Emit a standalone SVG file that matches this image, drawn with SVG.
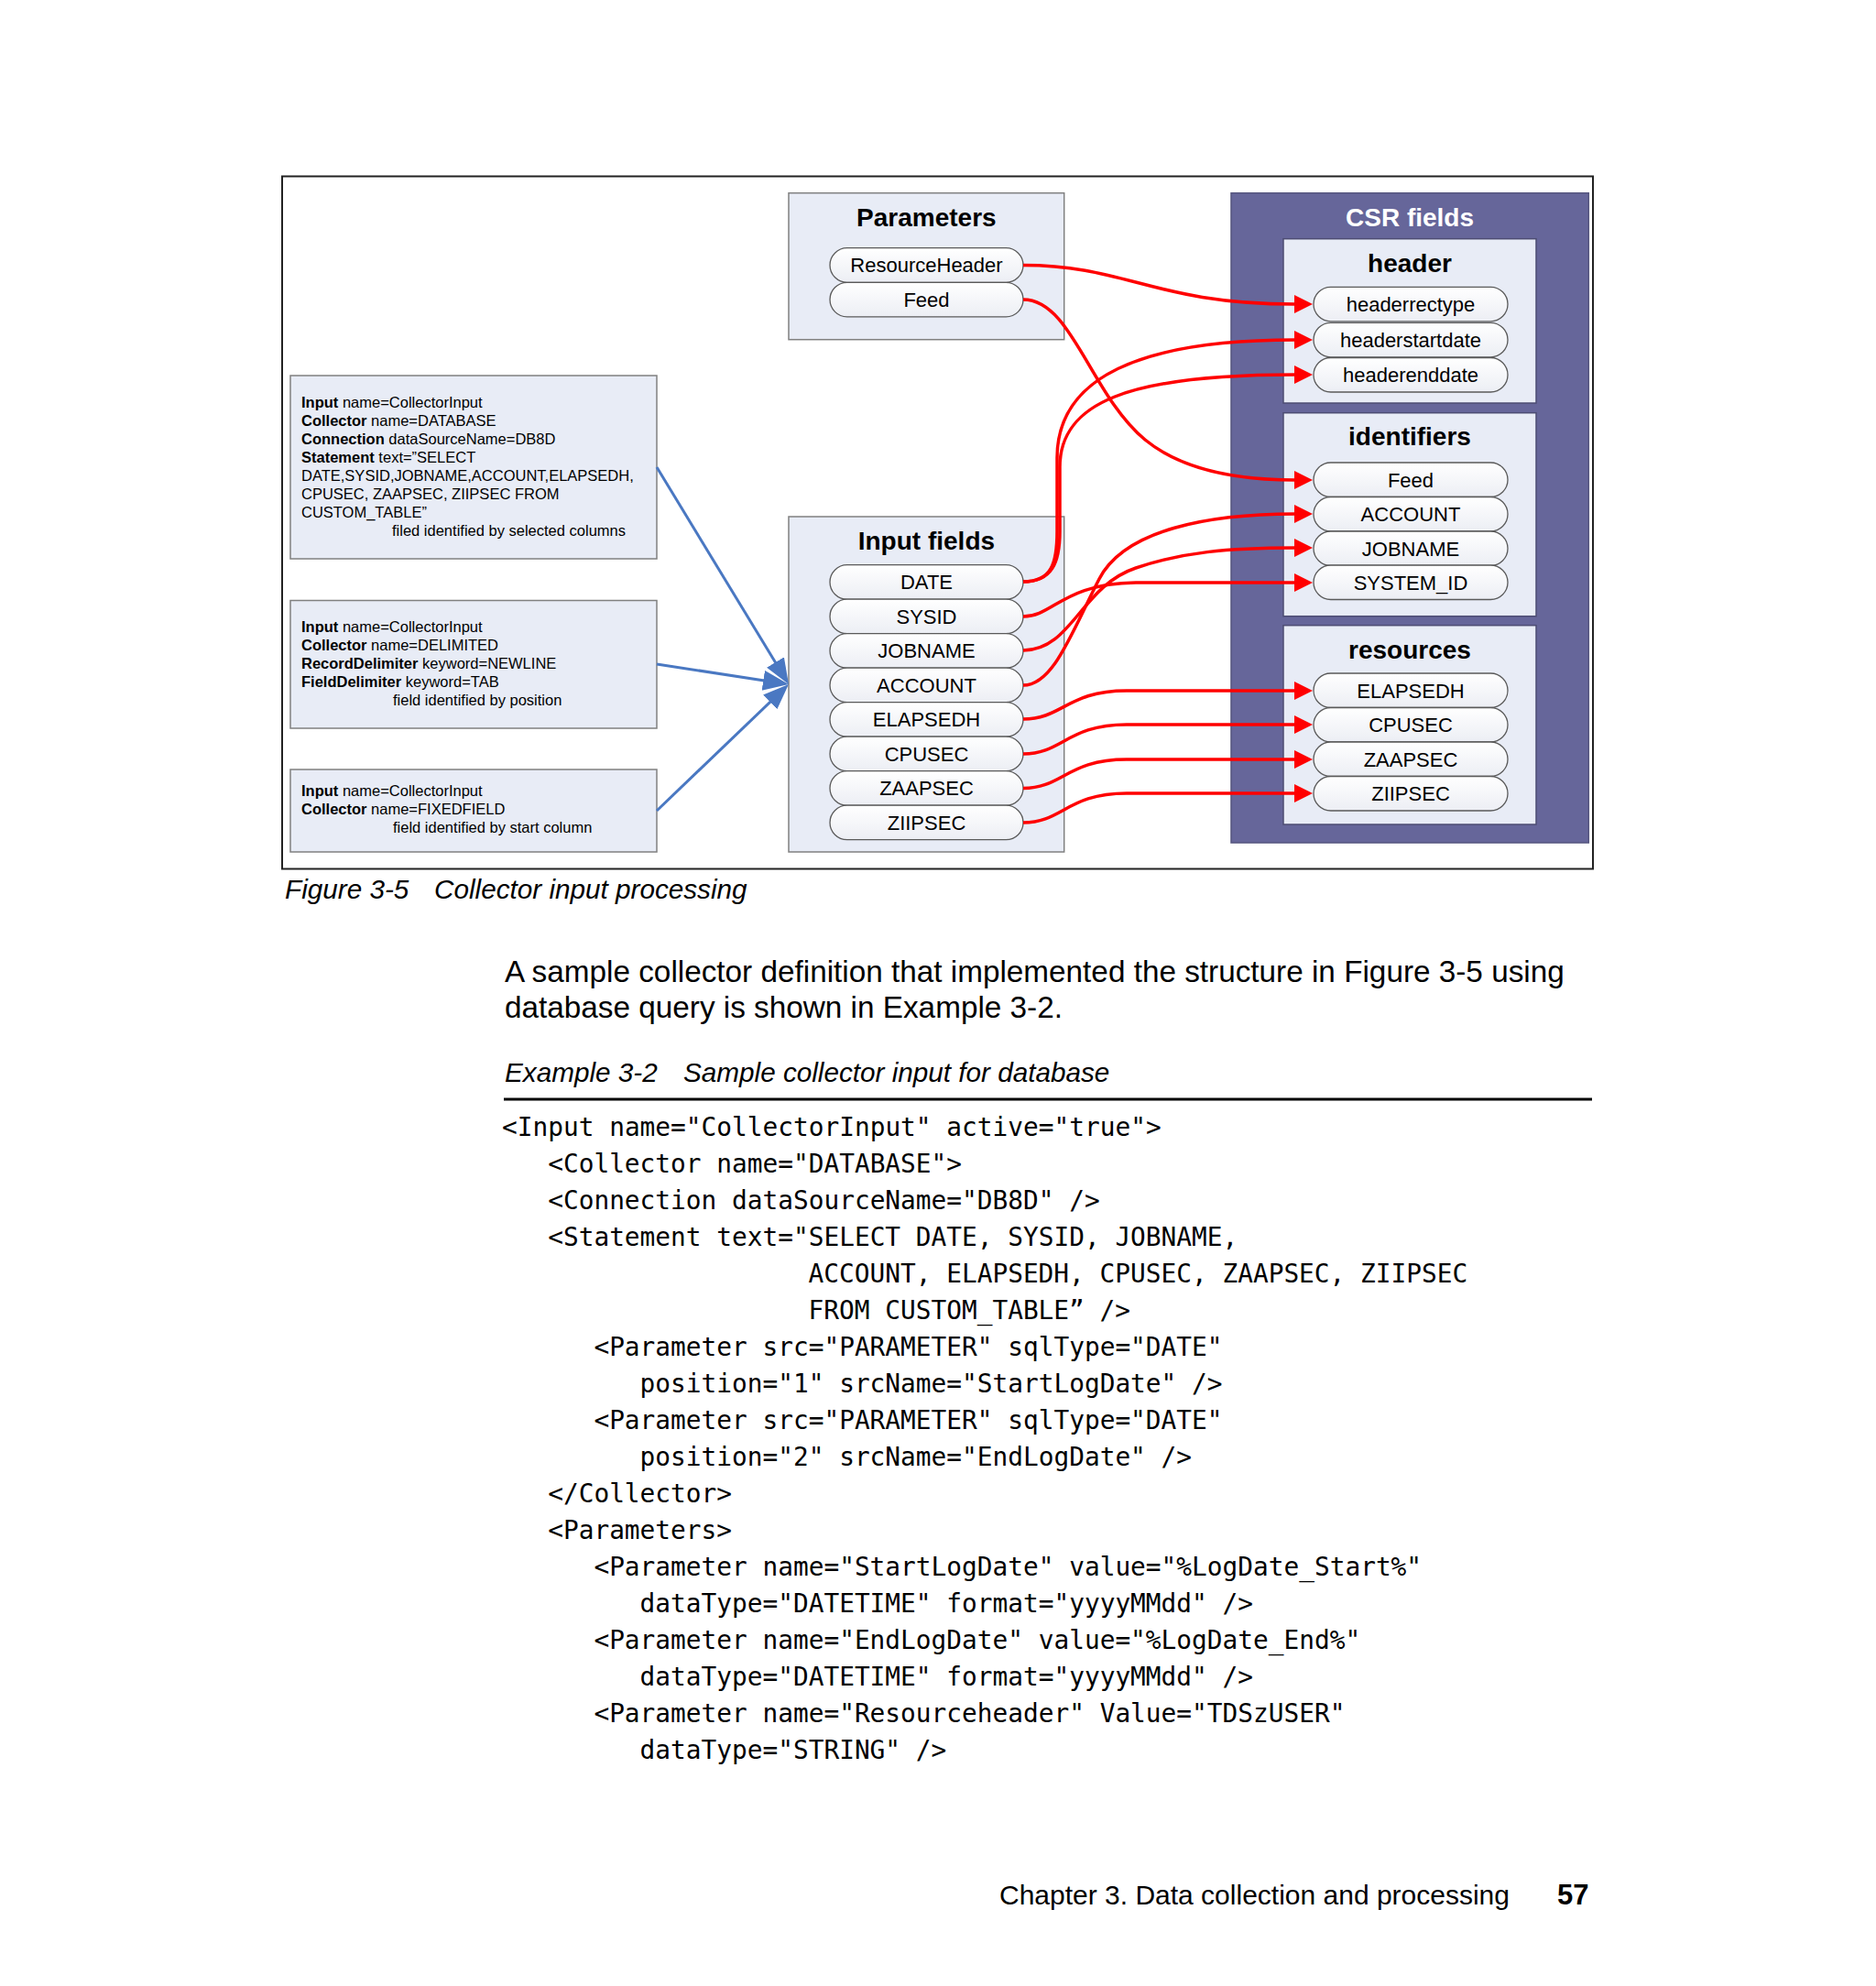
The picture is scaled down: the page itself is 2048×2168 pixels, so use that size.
<svg xmlns="http://www.w3.org/2000/svg" width="2048" height="2168" viewBox="0 0 2048 2168">
<defs>
<linearGradient id="pillg" x1="0" y1="0" x2="0" y2="1">
<stop offset="0" stop-color="#FFFFFF"/>
<stop offset="1" stop-color="#ECEEF4"/>
</linearGradient>
<marker id="redhead" markerUnits="userSpaceOnUse" markerWidth="22" markerHeight="22" refX="1" refY="10" orient="auto" viewBox="0 0 22 22">
<path d="M0,0 L20,10 L0,20 Z" fill="#FF0000"/>
</marker>
<marker id="bluehead" markerUnits="userSpaceOnUse" markerWidth="30" markerHeight="24" refX="16" refY="11" orient="auto" viewBox="0 0 30 24">
<path d="M0,0 L28,11 L0,22 Z" fill="#4A78C2"/>
</marker>
</defs>
<style>
.sans{font-family:"Liberation Sans",Arial,sans-serif;}
.box{fill:#E8ECF6;stroke:#808080;stroke-width:1.5;}
.inbox{fill:#E8ECF6;stroke:#4D4D73;stroke-width:1.5;}
.pill{fill:url(#pillg);stroke:#5A5A5A;stroke-width:1.3;}
.pt{font-family:"Liberation Sans",Arial,sans-serif;font-size:22px;fill:#000;text-anchor:middle;}
.title{font-family:"Liberation Sans",Arial,sans-serif;font-size:28px;font-weight:bold;fill:#000;text-anchor:middle;}
.small{font-family:"Liberation Sans",Arial,sans-serif;font-size:16.5px;fill:#000;}
.red{fill:none;stroke:#FF0000;stroke-width:3.5;marker-end:url(#redhead);}
.blue{fill:none;stroke:#4A78C2;stroke-width:3;marker-end:url(#bluehead);}
.code{font-family:"DejaVu Sans Mono","Liberation Mono",monospace;font-size:27.8px;fill:#000;}
.cap{font-family:"Liberation Sans",Arial,sans-serif;font-size:29.7px;font-style:italic;fill:#000;}
.body{font-family:"Liberation Sans",Arial,sans-serif;font-size:33.3px;fill:#000;}
</style>
<rect width="2048" height="2168" fill="#FFFFFF"/>

<g id="figure-frame">
<rect x="308" y="192.5" width="1431" height="756" fill="#FFFFFF" stroke="#222222" stroke-width="2"/>
</g>

<g id="db-input">
<rect class="box" x="317" y="410" width="400" height="200"/>
<text class="small" x="329" y="445"><tspan font-weight="bold">Input</tspan> name=CollectorInput</text>
<text class="small" x="329" y="465"><tspan font-weight="bold">Collector</tspan> name=DATABASE</text>
<text class="small" x="329" y="485"><tspan font-weight="bold">Connection</tspan> dataSourceName=DB8D</text>
<text class="small" x="329" y="505"><tspan font-weight="bold">Statement</tspan> text=”SELECT</text>
<text class="small" x="329" y="525">DATE,SYSID,JOBNAME,ACCOUNT,ELAPSEDH,</text>
<text class="small" x="329" y="545">CPUSEC, ZAAPSEC, ZIIPSEC FROM</text>
<text class="small" x="329" y="565">CUSTOM_TABLE”</text>
<text class="small" x="428" y="585">filed identified by selected columns</text>
</g>

<g id="delimited-input">
<rect class="box" x="317" y="655.5" width="400" height="139.5"/>
<text class="small" x="329" y="690"><tspan font-weight="bold">Input</tspan> name=CollectorInput</text>
<text class="small" x="329" y="710"><tspan font-weight="bold">Collector</tspan> name=DELIMITED</text>
<text class="small" x="329" y="730"><tspan font-weight="bold">RecordDelimiter</tspan> keyword=NEWLINE</text>
<text class="small" x="329" y="750"><tspan font-weight="bold">FieldDelimiter</tspan> keyword=TAB</text>
<text class="small" x="429" y="770">field identified by position</text>
</g>

<g id="fixed-input">
<rect class="box" x="317" y="840" width="400" height="90"/>
<text class="small" x="329" y="869"><tspan font-weight="bold">Input</tspan> name=CollectorInput</text>
<text class="small" x="329" y="889"><tspan font-weight="bold">Collector</tspan> name=FIXEDFIELD</text>
<text class="small" x="429" y="909">field identified by start column</text>
</g>

<g id="parameters">
<rect class="box" x="861" y="210.7" width="300.7" height="160"/>
<text class="title" x="1011.4" y="247">Parameters</text>
<rect class="pill" x="906" y="270.7" width="211" height="37.6" rx="18.8"/>
<text class="pt" x="1011.5" y="297.3">ResourceHeader</text>
<rect class="pill" x="906" y="308.3" width="211" height="37.6" rx="18.8"/>
<text class="pt" x="1011.5" y="334.8">Feed</text>
</g>

<g id="input-fields">
<rect class="box" x="861" y="564" width="300.7" height="366"/>
<text class="title" x="1011.4" y="600">Input fields</text>
<rect class="pill" x="906" y="616.7" width="211" height="37.5" rx="18.75"/>
<text class="pt" x="1011.5" y="643.2">DATE</text>
<rect class="pill" x="906" y="654.2" width="211" height="37.5" rx="18.75"/>
<text class="pt" x="1011.5" y="680.7">SYSID</text>
<rect class="pill" x="906" y="691.7" width="211" height="37.5" rx="18.75"/>
<text class="pt" x="1011.5" y="718.2">JOBNAME</text>
<rect class="pill" x="906" y="729.2" width="211" height="37.5" rx="18.75"/>
<text class="pt" x="1011.5" y="755.7">ACCOUNT</text>
<rect class="pill" x="906" y="766.7" width="211" height="37.5" rx="18.75"/>
<text class="pt" x="1011.5" y="793.2">ELAPSEDH</text>
<rect class="pill" x="906" y="804.2" width="211" height="37.5" rx="18.75"/>
<text class="pt" x="1011.5" y="830.7">CPUSEC</text>
<rect class="pill" x="906" y="841.7" width="211" height="37.5" rx="18.75"/>
<text class="pt" x="1011.5" y="868.2">ZAAPSEC</text>
<rect class="pill" x="906" y="879.2" width="211" height="37.5" rx="18.75"/>
<text class="pt" x="1011.5" y="905.7">ZIIPSEC</text>
</g>

<g id="csr-fields">
<rect x="1344" y="210.7" width="390.3" height="709.3" fill="#66669A" stroke="#55557F" stroke-width="1.5"/>
<text class="title" x="1539" y="247" fill="#FFFFFF" style="fill:#FFFFFF">CSR fields</text>
</g>

<g id="header">
<rect class="inbox" x="1401" y="260.7" width="276" height="179.3"/>
<text class="title" x="1539" y="297">header</text>
<rect class="pill" x="1434" y="313.3" width="212" height="37.5" rx="18.75"/>
<text class="pt" x="1540" y="339.8">headerrectype</text>
<rect class="pill" x="1434" y="352.3" width="212" height="37.5" rx="18.75"/>
<text class="pt" x="1540" y="378.8">headerstartdate</text>
<rect class="pill" x="1434" y="390.5" width="212" height="37.5" rx="18.75"/>
<text class="pt" x="1540" y="417">headerenddate</text>
</g>

<g id="identifiers">
<rect class="inbox" x="1401" y="450.7" width="276" height="222"/>
<text class="title" x="1539" y="486">identifiers</text>
<rect class="pill" x="1434" y="505" width="212" height="37.5" rx="18.75"/>
<text class="pt" x="1540" y="531.5">Feed</text>
<rect class="pill" x="1434" y="542.5" width="212" height="37.5" rx="18.75"/>
<text class="pt" x="1540" y="569">ACCOUNT</text>
<rect class="pill" x="1434" y="580" width="212" height="37.5" rx="18.75"/>
<text class="pt" x="1540" y="606.5">JOBNAME</text>
<rect class="pill" x="1434" y="617" width="212" height="37.5" rx="18.75"/>
<text class="pt" x="1540" y="643.5">SYSTEM_ID</text>
</g>

<g id="resources">
<rect class="inbox" x="1401" y="682.7" width="276" height="217.3"/>
<text class="title" x="1539" y="718.5">resources</text>
<rect class="pill" x="1434" y="735" width="212" height="37.5" rx="18.75"/>
<text class="pt" x="1540" y="761.5">ELAPSEDH</text>
<rect class="pill" x="1434" y="772.5" width="212" height="37.5" rx="18.75"/>
<text class="pt" x="1540" y="799">CPUSEC</text>
<rect class="pill" x="1434" y="810" width="212" height="37.5" rx="18.75"/>
<text class="pt" x="1540" y="836.5">ZAAPSEC</text>
<rect class="pill" x="1434" y="847.5" width="212" height="37.5" rx="18.75"/>
<text class="pt" x="1540" y="874">ZIIPSEC</text>
</g>

<g id="connectors">
<path class="blue" d="M717,510 L854.8,736.7"/>
<path class="blue" d="M717,725 L849.1,745.2"/>
<path class="blue" d="M717,885 L852.3,755.3"/>
<path class="red" d="M1117,289.5 C1230,289.5 1260,332 1414,332"/>
<path class="red" d="M1117,327 C1170,327 1190,430 1250,480 C1290,513 1350,524 1414,524"/>
<path class="red" d="M1117,635 C1148,635 1154,615 1154,580 L1154,500 C1154,430 1210,371 1414,371"/>
<path class="red" d="M1117,635 C1148,635 1157,615 1157,580 L1157,510 C1157,440 1230,409 1414,409"/>
<path class="red" d="M1117,673 C1150,673 1160,637 1240,636 L1414,636"/>
<path class="red" d="M1117,710 C1170,710 1180,640 1240,620 C1290,603 1340,598 1414,598"/>
<path class="red" d="M1117,748 C1150,748 1170,690 1200,632 C1228,578 1320,561 1414,561"/>
<path class="red" d="M1117,785 C1160,785 1165,754 1230,754 L1414,754"/>
<path class="red" d="M1117,823 C1160,823 1165,791 1230,791 L1414,791"/>
<path class="red" d="M1117,860.5 C1160,860.5 1165,829 1230,829 L1414,829"/>
<path class="red" d="M1117,898 C1160,898 1165,866 1230,866 L1414,866"/>
</g>

<g id="captions-and-text">
<text class="cap" x="311" y="981">Figure 3-5</text>
<text class="cap" x="474" y="981">Collector input processing</text>
<text class="body" x="551" y="1072">A sample collector definition that implemented the structure in Figure 3-5 using</text>
<text class="body" x="551" y="1111">database query is shown in Example 3-2.</text>
<text class="cap" x="551" y="1181">Example 3-2</text>
<text class="cap" x="746" y="1181">Sample collector input for database</text>
<line x1="550" y1="1200" x2="1738" y2="1200" stroke="#000" stroke-width="3"/>
</g>

<g id="code">
<text class="code" x="548" y="1240">&lt;Input name="CollectorInput" active="true"&gt;</text>
<text class="code" x="598.2" y="1280">&lt;Collector name="DATABASE"&gt;</text>
<text class="code" x="598.2" y="1320">&lt;Connection dataSourceName="DB8D" /&gt;</text>
<text class="code" x="598.2" y="1360">&lt;Statement text="SELECT DATE, SYSID, JOBNAME,</text>
<text class="code" x="882.6" y="1400">ACCOUNT, ELAPSEDH, CPUSEC, ZAAPSEC, ZIIPSEC</text>
<text class="code" x="882.6" y="1440">FROM CUSTOM_TABLE” /&gt;</text>
<text class="code" x="648.4" y="1480">&lt;Parameter src="PARAMETER" sqlType="DATE"</text>
<text class="code" x="698.6" y="1520">position="1" srcName="StartLogDate" /&gt;</text>
<text class="code" x="648.4" y="1560">&lt;Parameter src="PARAMETER" sqlType="DATE"</text>
<text class="code" x="698.6" y="1600">position="2" srcName="EndLogDate" /&gt;</text>
<text class="code" x="598.2" y="1640">&lt;/Collector&gt;</text>
<text class="code" x="598.2" y="1680">&lt;Parameters&gt;</text>
<text class="code" x="648.4" y="1720">&lt;Parameter name="StartLogDate" value="%LogDate_Start%"</text>
<text class="code" x="698.6" y="1760">dataType="DATETIME" format="yyyyMMdd" /&gt;</text>
<text class="code" x="648.4" y="1800">&lt;Parameter name="EndLogDate" value="%LogDate_End%"</text>
<text class="code" x="698.6" y="1840">dataType="DATETIME" format="yyyyMMdd" /&gt;</text>
<text class="code" x="648.4" y="1880">&lt;Parameter name="Resourceheader" Value="TDSzUSER"</text>
<text class="code" x="698.6" y="1920">dataType="STRING" /&gt;</text>
</g>

<g id="footer">
<text class="sans" x="1091" y="2079" font-size="30">Chapter 3. Data collection and processing</text>
<text class="sans" x="1700" y="2079" font-size="31" font-weight="bold">57</text>
</g>
</svg>
